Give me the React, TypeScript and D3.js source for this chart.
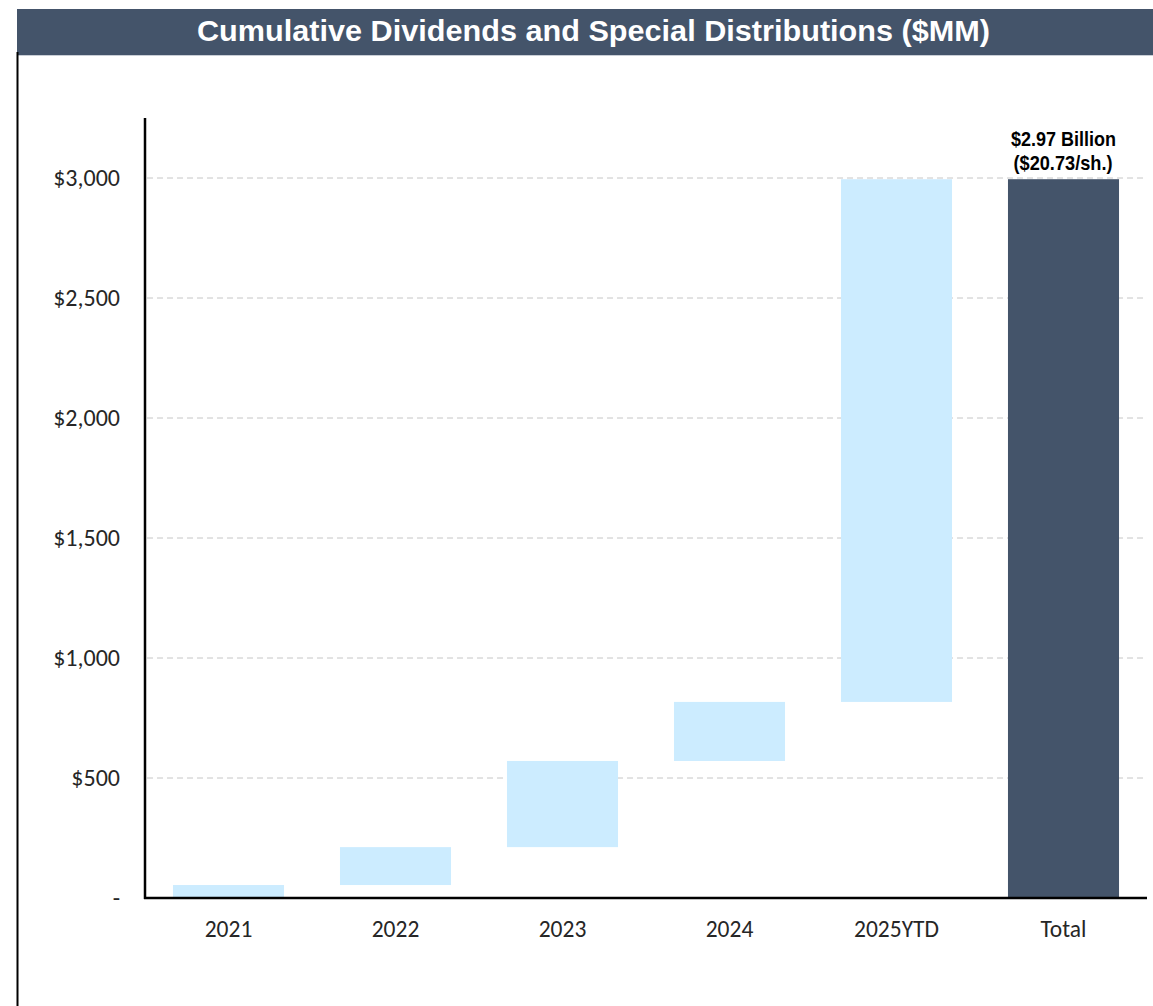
import React from "react";
import * as d3 from "d3";

const categories = ["2021", "2022", "2023", "2024", "2025YTD", "Total"];
const increments = [54, 158, 359, 246, 2178];
const totalValue = 2995;
const yTicks = [0, 500, 1000, 1500, 2000, 2500, 3000];
const totalLabel = ["$2.97 Billion", "($20.73/sh.)"];
const title = "Cumulative Dividends and Special Distributions ($MM)";

const W = 1153;
const H = 1006;
const axisX = 145;
const plotRight = 1147;
const baseY = 898;
const topY = 118;

export default function App() {
  const x = d3.scaleBand<string>().domain(categories).range([axisX, plotRight]).paddingInner(0.335).paddingOuter(0.1675);
  const y = d3.scaleLinear().domain([0, 3000]).range([baseY, baseY - 720]);

  let cum = 0;
  const bars = increments.map((v, i) => {
    const start = cum;
    cum += v;
    return { cat: categories[i], start, end: cum };
  });

  const fmt = (v: number) => (v === 0 ? "-" : "$" + d3.format(",")(v));
  const narrow = "'Liberation Sans Narrow', 'Arial Narrow', 'Liberation Sans', Arial, sans-serif";
  const body = "Carlito, Calibri, Lato, 'Open Sans', sans-serif";
  const totalCx = (x("Total") as number) + x.bandwidth() / 2;

  return (
    <svg width={W} height={H} style={{ position: "absolute", left: 0, top: 0, background: "#fff" }}>
      <rect x={17} y={9} width={W - 17} height={46} fill="#44546A" />
      <line x1={17} x2={W} y1={55.5} y2={55.5} stroke="#c9ced6" strokeWidth={1} />
      <text x={197} y={41} textLength={793} lengthAdjust="spacingAndGlyphs" fill="#fff" fontFamily={narrow} fontWeight="bold" fontSize={30}>
        {title}
      </text>
      <line x1={17.5} x2={17.5} y1={52} y2={H} stroke="#000" strokeWidth={2} />

      {yTicks.filter((t) => t > 0).map((t) => (
        <line key={"g" + t} x1={axisX + 2} x2={plotRight} y1={y(t)} y2={y(t)} stroke="#c6c6c6" strokeWidth={1} strokeDasharray="6,4" />
      ))}
      {yTicks.map((t) => (
        <text key={"t" + t} x={120} y={y(t) + 8} textAnchor="end" fontFamily={body} fontSize={24} fill="#262626">
          {fmt(t)}
        </text>
      ))}

      {bars.map((b) => (
        <rect key={b.cat} x={x(b.cat)} y={y(b.end)} width={x.bandwidth()} height={y(b.start) - y(b.end)} fill="#CCECFF" />
      ))}
      <rect x={x("Total")} y={y(totalValue)} width={x.bandwidth()} height={baseY - y(totalValue)} fill="#44546A" />

      <text x={totalCx - 52.5} y={146} textLength={105} lengthAdjust="spacingAndGlyphs" fontFamily={narrow} fontWeight="bold" fontSize={21} fill="#000">
        {totalLabel[0]}
      </text>
      <text x={totalCx - 50} y={170} textLength={99} lengthAdjust="spacingAndGlyphs" fontFamily={narrow} fontWeight="bold" fontSize={21} fill="#000">
        {totalLabel[1]}
      </text>

      <line x1={axisX} x2={axisX} y1={topY} y2={baseY + 1} stroke="#000" strokeWidth={2.5} />
      <line x1={axisX - 1} x2={plotRight} y1={baseY} y2={baseY} stroke="#000" strokeWidth={2.5} />

      {categories.map((c) => (
        <text key={"c" + c} x={(x(c) as number) + x.bandwidth() / 2} y={937} textAnchor="middle" fontFamily={body} fontSize={23.5} fill="#262626">
          {c}
        </text>
      ))}
    </svg>
  );
}
